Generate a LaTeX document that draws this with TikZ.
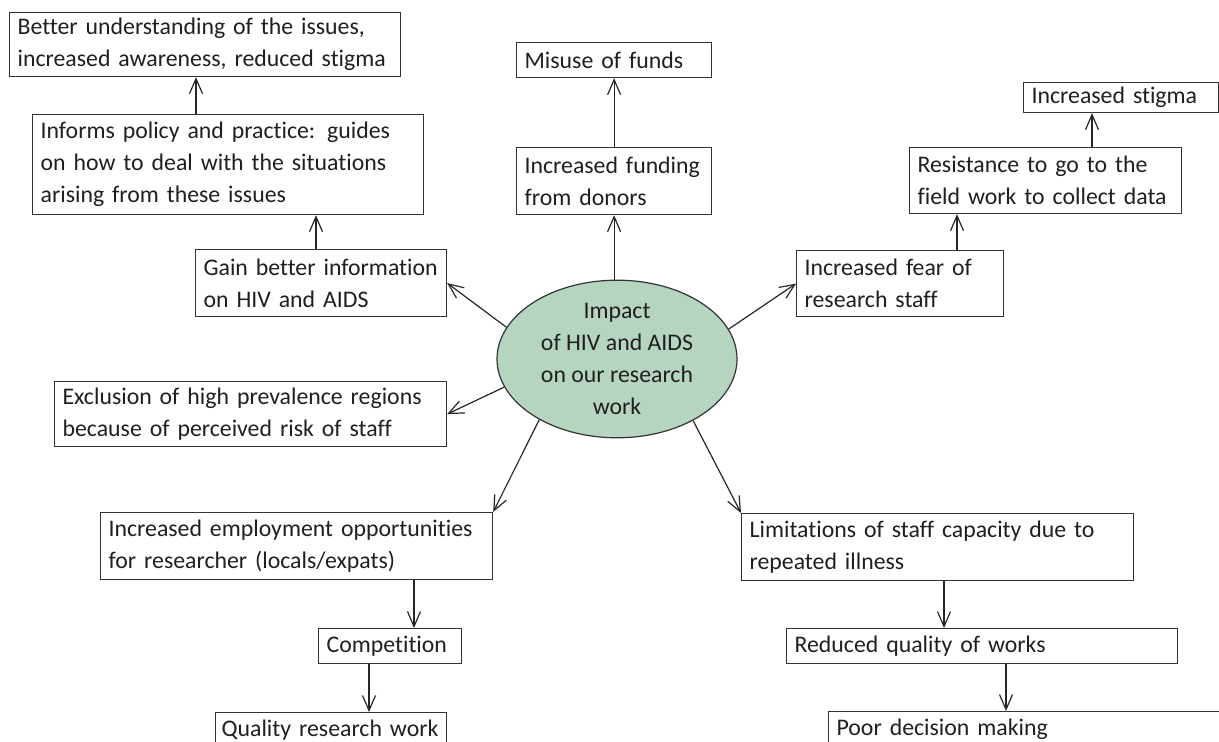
\documentclass[tikz,border=0pt]{standalone}
\usepackage{fontspec}
\setmainfont{Carlito}[Ligatures=NoCommon]
\usepackage{xcolor}
\usetikzlibrary{calc}
\usetikzlibrary{positioning}
\usetikzlibrary{arrows.meta}
\usetikzlibrary{shapes.geometric}
\definecolor{impactgreen}{RGB}{182,213,193}

\begin{document}
\begin{tikzpicture}[x=0.5pt, y=-0.5pt, >={Straight Barb[length=7.5pt,width=6.5pt]}, line width=0.6pt, font=\fontsize{11.9}{16}\selectfont, text=black!88]
			\tikzstyle{box}=[draw=black!80, rectangle, anchor=north west, align=left, inner xsep=4pt, inner ysep=0pt]
			\tikzstyle{impact}=[draw=black!80, ellipse, fill=impactgreen, minimum width=120pt, minimum height=77.5pt, inner sep=0pt, align=center]
			\tikzstyle{arr}=[->, draw=black!85]

			\useasboundingbox (0,0) rectangle (1219,742);

			\node[impact] (imp) at (617,359) {Impact\\of HIV and AIDS\\on our research\\work};

			\node[box, text width=187.5pt, minimum height=32pt] (better) at (9,12) {Better understanding of the issues,\\increased awareness, reduced stigma};
			\node[box, text width=187.5pt, minimum height=50pt] (informs) at (32,114) {Informs policy and practice: guides\\on how to deal with the situations\\arising from these issues};
			\node[box, text width=117.5pt, minimum height=33.5pt] (gain) at (195,249) {Gain better information\\on HIV and AIDS};
			\node[box, text width=89.5pt, minimum height=17.5pt] (misuse) at (516,42) {Misuse of funds};
			\node[box, text width=89.5pt, minimum height=33.5pt] (funding) at (516,147) {Increased funding\\from donors};
			\node[box, text width=89.5pt, minimum height=15pt] (stigma) at (1023,82) {Increased stigma};
			\node[box, text width=128pt, minimum height=33pt] (resistance) at (909,147) {Resistance to go to the\\field work to collect data};
			\node[box, text width=95.5pt, minimum height=33pt] (fear) at (796,250) {Increased fear of\\research staff};
			\node[box, text width=188pt, minimum height=32.5pt] (exclusion) at (54,381) {Exclusion of high prevalence regions\\because of perceived risk of staff};
			\node[box, text width=188pt, minimum height=33.5pt] (employment) at (100,512) {Increased employment opportunities\\for researcher (locals/expats)};
			\node[box, text width=63.5pt, minimum height=17.5pt] (competition) at (318,628) {Competition};
			\node[box, inner xsep=3pt, text width=109.5pt, minimum height=17.5pt] (quality) at (215,712) {Quality research work};
			\node[box, text width=188pt, minimum height=33.5pt] (limitations) at (741,513) {Limitations of staff capacity due to\\repeated illness};
			\node[box, text width=187.5pt, minimum height=17.5pt] (reduced) at (786,628) {Reduced quality of works};
			\node[box, text width=198pt, minimum height=17.5pt] (poor) at (828,711) {Poor decision making};

			\draw[arr] (informs.north -| 196,0) -- (better.south -| 196,0);
			\draw[arr] (gain.north -| 316,0) -- (informs.south -| 316,0);
			\draw[arr] (imp.164) -- (gain.east);
			\draw[arr] (imp.north -| funding.south) -- (funding.south);
			\draw[arr] (funding.north) -- (misuse.south);
			\draw[arr] (imp.15.5) -- (fear.west);
			\draw[arr] (fear.north -| 957,0) -- (resistance.south -| 957,0);
			\draw[arr] (resistance.north -| 1092,0) -- (stigma.south -| 1092,0);
			\draw[arr] (imp.194.5) -- (exclusion.east);
			\draw[arr] (imp.218) -- (employment.north east);
			\draw[arr] (imp.321) -- (limitations.north west);
			\draw[arr] (employment.south -| 414,0) -- (competition.north -| 414,0);
			\draw[arr] (competition.south -| 369,0) -- (quality.north -| 369,0);
			\draw[arr] (limitations.south -| 944,0) -- (reduced.north -| 944,0);
			\draw[arr] (reduced.south -| 1006,0) -- (poor.north -| 1006,0);
\end{tikzpicture}
\end{document}
